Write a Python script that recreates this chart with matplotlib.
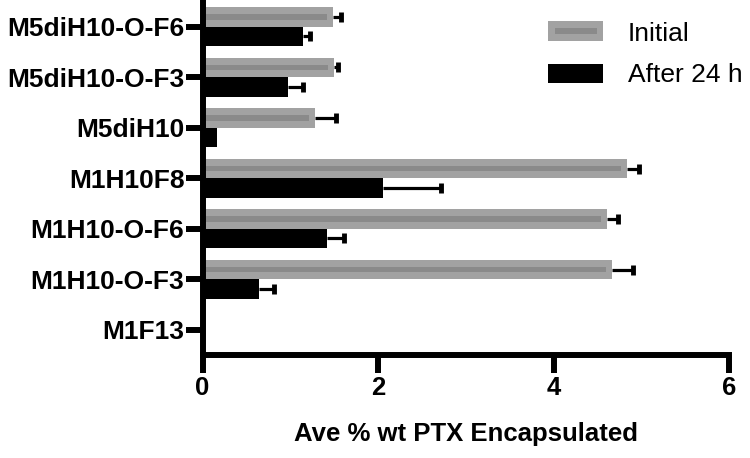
import matplotlib
matplotlib.use('Agg')
import matplotlib.pyplot as plt
import numpy as np
from matplotlib.patches import Patch, Rectangle
from matplotlib.legend_handler import HandlerBase

plt.rcParams['font.family'] = ['Liberation Sans', 'DejaVu Sans']

# categories, top to bottom
labels = ['M5diH10-O-F6', 'M5diH10-O-F3', 'M5diH10', 'M1H10F8',
          'M1H10-O-F6', 'M1H10-O-F3', 'M1F13']
initial = [1.49, 1.50, 1.28, 4.84, 4.61, 4.67, 0.0]
initial_err = [0.09, 0.04, 0.24, 0.13, 0.13, 0.24, 0.0]
after24 = [1.14, 0.98, 0.16, 2.06, 1.42, 0.64, 0.0]
after24_err = [0.09, 0.17, 0.0, 0.66, 0.19, 0.17, 0.0]

light = '#a2a2a2'
dark = '#8a8a8a'

fig = plt.figure(figsize=(7.5, 4.58), dpi=100)
ax = fig.add_axes([0.27, 0.2249, 0.702, 0.772])

y = np.arange(len(labels))
h = 0.384

# gray bars with a darker stripe through the middle
ax.barh(y - h / 2, initial, height=h, color=light, zorder=2)
stripe = np.clip(np.array(initial) - 0.07, 0, None)
ax.barh(y - h / 2, stripe, height=h * 0.28, color=dark, zorder=2)
ax.barh(y + h / 2, after24, height=h, color='black', zorder=2)


def err(vals, errs, ypos):
    # one sided error bars, cap only on the outer end
    vals, errs = np.array(vals), np.array(errs)
    m = errs > 0
    ax.hlines(ypos[m], vals[m], vals[m] + errs[m], color='black', lw=2.3,
              zorder=3)
    ax.plot(vals[m] + errs[m], ypos[m], '|', color='black', ms=7.5, mew=3.5,
            zorder=3)


err(initial, initial_err, y - h / 2)
err(after24, after24_err, y + h / 2)

ax.set_xlim(0, 6)
ax.set_ylim(len(labels) - 0.5, -0.5)
ax.set_xticks([0, 2, 4, 6])
ax.set_yticks(y)
ax.set_yticklabels(labels, fontweight='bold', fontsize=19)

for s in ['top', 'right']:
    ax.spines[s].set_visible(False)
for s in ['left', 'bottom']:
    ax.spines[s].set_linewidth(4.3)

ax.tick_params(axis='y', width=4.3, length=12, pad=1)
ax.tick_params(axis='x', width=4.3, length=13, pad=2, labelsize=18.5)
for t in ax.get_xticklabels():
    t.set_fontweight('bold')

ax.set_xlabel('Ave % wt PTX Encapsulated', fontsize=18.5, fontweight='bold')
ax.xaxis.set_label_coords(0.5, -0.19)


class StripeHandler(HandlerBase):
    def create_artists(self, legend, orig, xd, yd, w, hgt, fontsize, trans):
        outer = Rectangle((xd, yd), w, hgt, facecolor=light, edgecolor='none',
                          transform=trans)
        inner = Rectangle((xd + w * 0.13, yd + hgt * 0.32), w * 0.76,
                          hgt * 0.36, facecolor=dark, edgecolor='none',
                          transform=trans)
        return [outer, inner]


gray_handle = Patch(facecolor=light)
black_handle = Patch(facecolor='black')
ax.legend([gray_handle, black_handle], ['Initial', 'After 24 h'],
          handler_map={gray_handle: StripeHandler()},
          loc='upper left', bbox_to_anchor=(548 / 750, 1 - 22 / 458),
          bbox_transform=fig.transFigure, borderpad=0, borderaxespad=0,
          frameon=False, fontsize=19, handlelength=2.08, handleheight=0.74,
          labelspacing=0.66, handletextpad=0.94)

fig.savefig('out.png', dpi=100)
